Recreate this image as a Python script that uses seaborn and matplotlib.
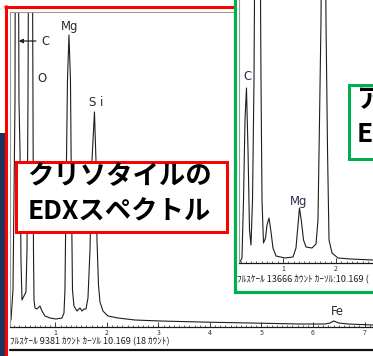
import matplotlib
matplotlib.use("Agg")
import matplotlib.pyplot as plt
from matplotlib.patches import Rectangle
from matplotlib.lines import Line2D
from matplotlib.ticker import MultipleLocator
import seaborn as sns
import pandas as pd

# ---- chrysotile spectrum (energy keV, counts) ----
chry_kev = [0.136, 0.175, 0.194, 0.214, 0.243, 0.291, 0.311, 0.330, 0.350, 0.388,
            0.427, 0.447, 0.466, 0.515, 0.563, 0.573, 0.583, 0.602, 0.641, 0.699,
            0.738, 0.796, 0.893, 1.010, 1.126, 1.165, 1.184, 1.204, 1.233, 1.262,
            1.291, 1.311, 1.330, 1.359, 1.417, 1.476, 1.515, 1.553, 1.592, 1.631,
            1.670, 1.709, 1.757, 1.786, 1.806, 1.835, 1.864, 1.922, 2.019, 2.214,
            2.544, 3.029, 3.806, 4.777, 5.748, 6.233, 6.330, 6.400, 6.500, 6.680,
            7.165]
chry_cnt = [208, 1102, 3782, 6760, 30000, 6760, 5271, 1995, 804, 923,
            1042, 2293, 6760, 26000, 6760, 2293, 804, 566, 536, 625,
            476, 328, 268, 238, 268, 417, 1102, 3782, 7356, 8696,
            7356, 3782, 1102, 625, 476, 566, 476, 536, 536, 864,
            2293, 4973, 6403, 4973, 2591, 1251, 745, 476, 328, 268,
            208, 179, 149, 119, 89, 89, 119, 179, 119, 89,
            60]
chry_full_scale = 9381

# ---- amphibole asbestos spectrum (energy keV, counts) ----
amph_kev = [0.189, 0.226, 0.255, 0.283, 0.311, 0.340, 0.368, 0.396, 0.425, 0.453,
            0.519, 0.585, 0.604, 0.632, 0.670, 0.698, 0.736, 0.774, 0.811, 0.868,
            1.038, 1.189, 1.245, 1.283, 1.311, 1.349, 1.387, 1.434, 1.547, 1.623,
            1.660, 1.689, 1.717, 1.764, 1.811, 1.840, 1.868, 1.925, 2.038, 2.264,
            2.698]
amph_cnt = [52, 260, 3273, 7430, 9093, 5871, 1715, 935, 3273, 9509,
            40000, 9509, 3273, 1039, 1299, 1975, 2338, 1611, 779, 364,
            260, 312, 779, 1975, 2858, 2130, 1195, 831, 779, 987,
            2234, 7430, 12626, 32000, 12626, 5871, 1195, 520, 260, 208,
            156]
amph_full_scale = 13666

# ---- peak labels ----
chry_peaks = {"O": (0.738, 7415), "Mg": (1.282, 8964), "Si": (1.786, 6671), "Fe": (6.466, 476)}
amph_peaks = {"C": (0.321, 9665), "Mg": (1.302, 3170)}

chry_footer = "ﾌﾙｽｹｰﾙ 9381 ｶｳﾝﾄ ｶｰｿﾙ 10.169 (18 ｶｳﾝﾄ)"
amph_footer = "ﾌﾙｽｹｰﾙ 13666 ｶｳﾝﾄ ｶｰｿﾙ:10.169 ("
chry_title = ["クリソタイルの", "EDXスペクトル"]
amph_title = ["アモサイトの", "EDXスペクトル"]

sns.set_style("white")
plt.rcParams["font.family"] = ["Noto Sans CJK JP", "DejaVu Sans"]

W, H, DPI = 373, 356, 100
fig = plt.figure(figsize=(W / DPI, H / DPI), dpi=DPI)
fig.patch.set_facecolor("white")


def fx(x):
    return x / W


def fy(y):
    return 1 - y / H


def px(v):
    return v * 72 / DPI


RED = "#ff0000"
GREEN = "#00b050"
NAVY = "#1c355e"
LABEL_FONT = dict(family="DejaVu Sans", fontstretch="condensed", fontsize=9.3,
                  color="#2a2a2a")
JP = ["Noto Sans CJK JP", "DejaVu Sans"]


def style_axis(ax, xlim, ylim, ticks):
    ax.set_xlim(*xlim)
    ax.set_ylim(*ylim)
    ax.set_facecolor("none")
    ax.set_xlabel("")
    ax.set_ylabel("")
    ax.set_yticks([])
    ax.set_xticks(ticks)
    ax.set_xticklabels([str(t) for t in ticks], fontsize=5, color="#333333")
    ax.xaxis.set_minor_locator(MultipleLocator(0.1))
    ax.tick_params(axis="x", which="major", direction="in", length=3.5, width=0.6,
                   pad=1.5, bottom=True, color="#222222")
    ax.tick_params(axis="x", which="minor", direction="in", length=1.6, width=0.5,
                   bottom=True, color="#222222")
    ax.spines["right"].set_visible(False)
    ax.spines["left"].set_color("#9a9a9a")
    ax.spines["left"].set_linewidth(0.8)
    ax.spines["bottom"].set_color("#1a1a1a")
    ax.spines["bottom"].set_linewidth(0.9)


# ---- main chrysotile panel ----
ax = fig.add_axes([fx(10), fy(327), fx(373) - fx(10), fy(12) - fy(327)], zorder=0)
chry = pd.DataFrame({"keV": chry_kev, "counts": chry_cnt})
sns.lineplot(data=chry, x="keV", y="counts", ax=ax, color="#1e1e1e", lw=0.8,
             estimator=None, sort=False)
style_axis(ax, (0.117, 7.165), (0, chry_full_scale), [1, 2, 3, 4, 5, 6, 7])
ax.spines["top"].set_color("#9a9a9a")
ax.spines["top"].set_linewidth(0.8)
for name, (x, y) in chry_peaks.items():
    ax.text(x, y, " ".join(name) if name == "Si" else name, ha="center", va="center",
            **LABEL_FONT)
ax.annotate("", xy=(0.285, 8517), xytext=(0.62, 8517),
            arrowprops=dict(arrowstyle="-|>", color="#222222", lw=0.9,
                            mutation_scale=6, shrinkA=0, shrinkB=0))
ax.text(0.80, 8517, "C", ha="center", va="center", **LABEL_FONT)
fig.text(fx(10), fy(342), chry_footer, ha="left", va="center", fontsize=6.6,
         color="#222222", family=JP)
fig.add_artist(Line2D([fx(10), 1], [fy(350), fy(350)], color="#111111",
                      lw=px(2.2), zorder=1))

# ---- frame pieces ----
fig.add_artist(Rectangle((0, 0), fx(4.5), fy(133), transform=fig.transFigure,
                         facecolor=NAVY, edgecolor="none", zorder=1))
fig.add_artist(Line2D([fx(5.5), fx(5.5)], [0, fy(5)], color=RED, lw=px(3),
                      solid_capstyle="butt", zorder=1))
fig.add_artist(Line2D([fx(4), fx(236)], [fy(6.5), fy(6.5)], color=RED, lw=px(3),
                      solid_capstyle="butt", zorder=1))

# ---- amphibole inset ----
fig.add_artist(Rectangle((fx(234.5), fy(291.5)), 1.5, 1.5, transform=fig.transFigure,
                         facecolor="white", edgecolor=GREEN, lw=px(3.2), zorder=2))
ax2 = fig.add_axes([fx(239), fy(263), fx(373) - fx(239), fy(0) - fy(263)], zorder=3)
amph = pd.DataFrame({"keV": amph_kev, "counts": amph_cnt})
sns.lineplot(data=amph, x="keV", y="counts", ax=ax2, color="#1e1e1e", lw=0.8,
             estimator=None, sort=False)
style_axis(ax2, (0.17, 2.698), (0, amph_full_scale), [1, 2])
ax2.spines["top"].set_visible(False)
for name, (x, y) in amph_peaks.items():
    ax2.text(x, y, name, ha="center", va="center",
             **{**LABEL_FONT, "color": "#2b2b50"})
fig.text(fx(237), fy(280), amph_footer, ha="left", va="center", fontsize=6.6,
         color="#222222", family=JP, zorder=4)

# ---- caption boxes ----
fig.add_artist(Rectangle((fx(15.5), fy(231.5)), fx(227) - fx(15.5), fy(161.5) - fy(231.5),
                         transform=fig.transFigure, facecolor="white",
                         edgecolor=RED, lw=px(3), zorder=5))
fig.text(fx(119), fy(177), chry_title[0], ha="center", va="center", fontsize=19,
         fontweight="bold", color="black", family=JP, zorder=6)
fig.text(fx(119), fy(211), chry_title[1], ha="center", va="center", fontsize=19,
         fontweight="bold", color="black", family=JP, zorder=6)

fig.add_artist(Rectangle((fx(348.5), fy(158.5)), fx(420) - fx(348.5), fy(84.5) - fy(158.5),
                         transform=fig.transFigure, facecolor="white",
                         edgecolor=GREEN, lw=px(3), zorder=5))
fig.text(fx(357), fy(100), amph_title[0], ha="left", va="center", fontsize=19,
         fontweight="bold", color="black", family=JP, zorder=6)
fig.text(fx(357), fy(134), amph_title[1], ha="left", va="center", fontsize=19,
         fontweight="bold", color="black", family=JP, zorder=6)

fig.savefig("out.png", dpi=DPI)
